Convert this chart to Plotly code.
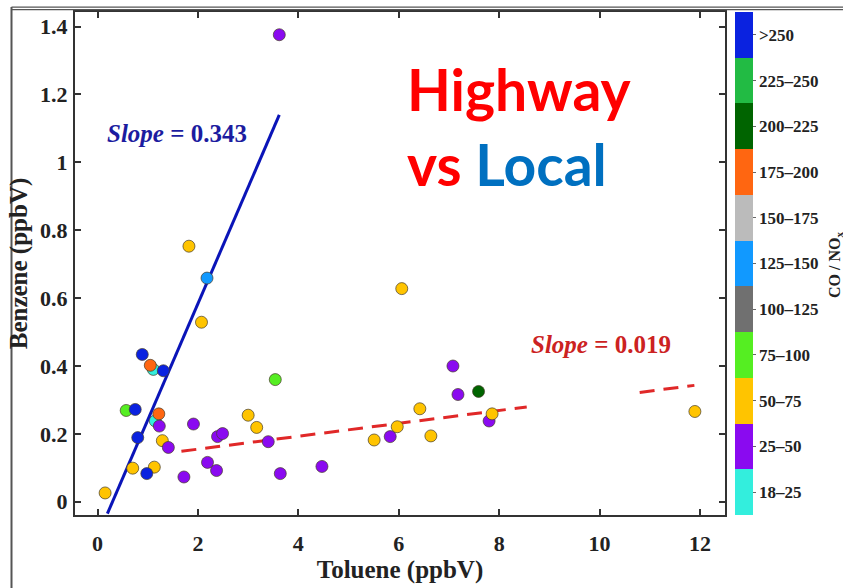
import plotly.graph_objects as go

# Toluene vs benzene mixing ratios, coloured by CO/NOx ratio bin
toluene = [1.11, 1.15, 0.57, 0.75, 0.89, 1.05, 1.31, 1.22, 1.23, 0.80, 1.29, 1.41,
           0.70, 1.13, 0.98, 0.15, 3.62, 1.82, 2.18, 2.07, 6.06, 1.91, 1.72, 2.19,
           2.37, 2.39, 2.49, 3.00, 3.17, 3.40, 3.54, 3.64, 4.47, 5.51, 5.83, 5.97,
           6.42, 6.64, 7.08, 7.18, 7.59, 7.80, 7.86, 11.90]
benzene = [0.390, 0.238, 0.269, 0.272, 0.434, 0.402, 0.386, 0.259, 0.223, 0.189, 0.180, 0.160,
           0.099, 0.102, 0.083, 0.026, 1.376, 0.753, 0.659, 0.529, 0.628, 0.229, 0.073, 0.116,
           0.092, 0.192, 0.201, 0.255, 0.219, 0.177, 0.360, 0.083, 0.104, 0.182, 0.192, 0.221,
           0.274, 0.194, 0.400, 0.316, 0.325, 0.238, 0.259, 0.266]
ratio_bin = ["18–25", "18–25", "75–100", ">250", ">250", "175–200", ">250", "175–200", "25–50", ">250", "50–75", "25–50",
             "50–75", "50–75", ">250", "50–75", "25–50", "50–75", "125–150", "50–75", "50–75", "25–50", "25–50", "25–50",
             "25–50", "25–50", "25–50", "50–75", "50–75", "25–50", "75–100", "25–50", "25–50", "50–75", "25–50", "50–75",
             "50–75", "50–75", "25–50", "25–50", "200–225", "25–50", "50–75", "50–75"]

# Colour bins for the CO/NOx ratio
bin_labels = ["18–25", "25–50", "50–75", "75–100", "100–125", "125–150",
              "150–175", "175–200", "200–225", "225–250", ">250"]
bin_colors = ["#33eedd", "#8a0af0", "#ffc400", "#55ee22", "#707070", "#1199ff",
              "#bbbbbb", "#ff6611", "#006400", "#22bb44", "#0a22e0"]

# Fitted regression lines
highway_slope, highway_intercept = 0.343, -0.102
highway_x = [0.195, 3.62]
local_slope, local_intercept = 0.019, 0.117
local_x = [1.67, 8.55, None, 10.8, 11.89]

x_ticks = [0, 2, 4, 6, 8, 10, 12]
y_ticks = [0, 0.2, 0.4, 0.6, 0.8, 1.0, 1.2, 1.4]
y_ticktext = ["0", "0.2", "0.4", "0.6", "0.8", "1", "1.2", "1.4"]

SERIF = "Liberation Serif"
n_bins = len(bin_labels)
colorscale = []
for i, c in enumerate(bin_colors):
    colorscale.append([i / n_bins, c])
    colorscale.append([(i + 1) / n_bins, c])
color_idx = [bin_labels.index(b) for b in ratio_bin]

fig = go.Figure()

fig.add_trace(go.Scatter(
    x=highway_x, y=[highway_slope * x + highway_intercept for x in highway_x],
    mode="lines", line=dict(color="#0a14b8", width=3), showlegend=False, hoverinfo="skip"))
fig.add_trace(go.Scatter(
    x=local_x, y=[None if x is None else local_slope * x + local_intercept for x in local_x],
    mode="lines", line=dict(color="#e02828", width=3, dash="15px,9px"),
    showlegend=False, hoverinfo="skip", connectgaps=False))

fig.add_trace(go.Scatter(
    x=toluene, y=benzene, mode="markers", showlegend=False,
    marker=dict(
        size=12, color=color_idx, colorscale=colorscale, cmin=-0.5, cmax=n_bins - 0.5,
        line=dict(color="rgba(70,60,40,0.7)", width=1),
        colorbar=dict(
            x=(735 - 75) / 650, xanchor="left", xpad=0, ypad=0,
            y=0.5, yanchor="middle", len=1.0, lenmode="fraction",
            thickness=18, outlinewidth=0,
            tickvals=list(range(n_bins)), ticktext=bin_labels,
            ticks="outside", ticklen=3, tickcolor="#666",
            tickfont=dict(family=SERIF, size=17, color="#222", weight="bold"),
        ),
    ),
))

axis_common = dict(
    showline=True, linecolor="#333", linewidth=2, mirror="allticks",
    ticks="inside", ticklen=6, tickwidth=1.5, tickcolor="#333",
    showgrid=False, zeroline=False,
    tickfont=dict(family=SERIF, size=22, color="#222", weight="bold"),
)

fig.update_layout(
    width=843, height=588,
    margin=dict(l=75, r=118, t=10, b=69),
    paper_bgcolor="white", plot_bgcolor="white",
    xaxis=dict(range=[-0.45, 12.5], tickvals=x_ticks, ticklabelstandoff=8,
               title=dict(text="Toluene (ppbV)", standoff=4,
                          font=dict(family=SERIF, size=25, color="#222", weight="bold")),
               **axis_common),
    yaxis=dict(range=[-0.039, 1.443], tickvals=y_ticks, ticktext=y_ticktext,
               ticklabelstandoff=1,
               title=dict(text="Benzene (ppbV)", standoff=5,
                          font=dict(family=SERIF, size=25, color="#222", weight="bold")),
               **axis_common),
)

annotations = [
    dict(x=0.15, y=1.085, xref="x", yref="y", xanchor="left", yanchor="middle",
         text="<i>Slope</i> = 0.343", showarrow=False,
         font=dict(family=SERIF, size=25, color="#1c1ca0", weight="bold")),
    dict(x=8.6, y=0.462, xref="x", yref="y", xanchor="left", yanchor="middle",
         text="<i>Slope</i> = 0.019", showarrow=False,
         font=dict(family=SERIF, size=25, color="#cc2222", weight="bold")),
    dict(x=6.13, y=1.215, xref="x", yref="y", xanchor="left", yanchor="middle",
         text="Highway", showarrow=False,
         font=dict(family="Lato", size=57, color="#ff0000", weight="bold")),
    dict(x=6.13, y=0.996, xref="x", yref="y", xanchor="left", yanchor="middle",
         text="vs <span style='color:#0070c0'>Local</span>", showarrow=False,
         font=dict(family="Lato", size=57, color="#ff0000", weight="bold")),
    dict(x=(835 - 75) / 650, y=0.497, xref="paper", yref="paper",
         xanchor="center", yanchor="middle", textangle=-90,
         text="CO / NO<sub>x</sub>", showarrow=False,
         font=dict(family=SERIF, size=16, color="#222", weight="bold")),
]
fig.update_layout(annotations=annotations)

# Outer frame lines
def px_x(p):
    return (p - 75) / 650

def px_y(p):
    return (519 - p) / 509

frame = [
    dict(x0=px_x(11.5), x1=px_x(11.5), y0=px_y(5), y1=px_y(600), w=2),
    dict(x0=px_x(11.5), x1=px_x(860), y0=px_y(5), y1=px_y(5), w=1.3),
    dict(x0=px_x(11.5), x1=px_x(860), y0=px_y(7.5), y1=px_y(7.5), w=1.3),
]
for f in frame:
    fig.add_shape(type="line", xref="paper", yref="paper",
                  x0=f["x0"], x1=f["x1"], y0=f["y0"], y1=f["y1"],
                  line=dict(color="#555", width=f["w"]))

fig.write_html("out.html")
